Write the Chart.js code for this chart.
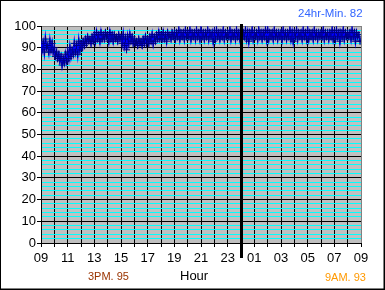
<!DOCTYPE html>
<html>
<head>
<meta charset="utf-8">
<script src="https://cdn.jsdelivr.net/npm/chart.js@4"></script>
<style>
  body { margin: 0; background: #fff; }
  #wrap { position: relative; width: 385px; height: 290px; }
  #wrap canvas { position: absolute; left: 0; top: 0; }
  .note { position: absolute; font-family: "Liberation Sans", Arial, sans-serif; white-space: nowrap; line-height: 1; }
</style>
</head>
<body>
<div id="wrap">
  <canvas id="humChart" width="385" height="290"></canvas>
  <div class="note" style="left:298px; top:8px; font-size:11.5px; color:#3366FF;">24hr-Min. 82</div>
  <div class="note" style="left:180px; top:269px; font-size:13px; color:#000;">Hour</div>
  <div class="note" style="left:88px; top:271px; font-size:11px; color:#993300;">3PM. 95</div>
  <div class="note" style="left:325px; top:272px; font-size:11px; color:#FF9900;">9AM. 93</div>
</div>
<script>
// readings every 5 minutes, starting 09:00, for 24 hours (one row per hour)
const stepMinutes = 5;
const readings = [
  93, 89, 92, 88, 94, 90, 91, 88, 93, 89, 92, 88,
  90, 86, 88, 85, 87, 84, 86, 82, 85, 83, 87, 84,
  88, 85, 90, 86, 89, 87, 92, 88, 91, 87, 93, 89,
  92, 90, 93, 91, 94, 92, 95, 93, 94, 92, 95, 93,
  96, 93, 97, 94, 96, 93, 97, 94, 96, 94, 97, 95,
  96, 93, 97, 94, 96, 93, 96, 94, 95, 93, 96, 94,
  95, 92, 96, 91, 94, 89, 95, 92, 96, 93, 95, 92,
  94, 92, 93, 91, 94, 92, 93, 91, 94, 92, 95, 92,
  94, 92, 95, 93, 96, 92, 95, 93, 96, 94, 97, 94,
  96, 94, 97, 94, 96, 93, 97, 95, 96, 94, 97, 95,
  97, 94, 97, 95, 98, 94, 97, 95, 97, 94, 98, 95,
  97, 95, 98, 94, 97, 95, 97, 94, 98, 95, 97, 94,
  98, 95, 97, 94, 97, 95, 98, 94, 97, 95, 97, 93,
  97, 94, 98, 95, 97, 94, 97, 95, 98, 94, 97, 95,
  97, 95, 98, 94, 97, 95, 97, 94, 98, 95, 97, 94,
  97, 94, 97, 95, 98, 94, 97, 93, 97, 95, 98, 94,
  97, 95, 97, 94, 98, 95, 97, 94, 97, 95, 98, 94,
  98, 94, 97, 95, 97, 94, 98, 95, 97, 94, 97, 95,
  97, 94, 98, 95, 97, 94, 97, 95, 98, 94, 97, 93,
  97, 95, 98, 94, 97, 95, 97, 94, 98, 95, 97, 94,
  98, 94, 97, 95, 97, 94, 98, 95, 97, 94, 97, 95,
  97, 95, 98, 94, 97, 95, 97, 94, 97, 95, 98, 94,
  97, 94, 98, 95, 97, 93, 97, 95, 98, 94, 97, 95,
  97, 95, 97, 94, 98, 95, 97, 93, 97, 95, 96, 93,
  93
];
const xTickLabels = ['09', '11', '13', '15', '17', '19', '21', '23', '01', '03', '05', '07', '09'];
const yTickLabels = ['0', '10', '20', '30', '40', '50', '60', '70', '80', '90', '100'];
const midnightHour = 15; // hours after 09:00

const points = readings.map((v, i) => ({x: i * stepMinutes / 60, y: v}));

const plotDecor = {
  id: 'plotDecor',
  beforeDraw(chart) {
    const {ctx, chartArea: a} = chart;
    ctx.save();
    ctx.fillStyle = '#C0C0C0';
    ctx.fillRect(a.left, a.top, a.right - a.left, a.bottom - a.top);
    ctx.restore();
  },
  afterDatasetsDraw(chart) {
    const {ctx, chartArea: a} = chart;
    const x = Math.round(chart.scales.x.getPixelForValue(midnightHour));
    ctx.save();
    ctx.fillStyle = '#000';
    ctx.fillRect(x - 1, a.top - 2, 3, 258 - a.top + 2);
    ctx.restore();
  },
  afterDraw(chart) {
    const {ctx, width, height} = chart;
    ctx.save();
    ctx.strokeStyle = '#000';
    ctx.lineWidth = 1;
    ctx.strokeRect(0.5, 0.5, width - 1.5, height - 1.5);
    ctx.fillStyle = '#000';
    ctx.fillRect(width - 1, 0, 1, height);
    ctx.fillRect(0, height - 1, width, 1);
    ctx.restore();
  }
};

Chart.defaults.font.family = '"Liberation Sans", Arial, sans-serif';
Chart.defaults.font.size = 13;
Chart.defaults.color = '#000';

new Chart(document.getElementById('humChart'), {
  type: 'line',
  data: {
    datasets: [{
      data: points,
      borderColor: '#0000FF',
      borderWidth: 2,
      tension: 0,
      pointStyle: 'cross',
      pointRadius: 3.5,
      pointBorderColor: '#000080',
      pointBorderWidth: 1
    }]
  },
  options: {
    responsive: false,
    animation: false,
    devicePixelRatio: 1,
    layout: { padding: { top: 26, right: 24, left: 0, bottom: 0 } },
    plugins: { legend: { display: false }, tooltip: { enabled: false } },
    scales: {
      x: {
        type: 'linear',
        min: 0,
        max: 24,
        afterFit(scale) { scale.height = 47; },
        border: { color: '#000', width: 1 },
        grid: {
          color: (c) => c.tick && c.tick.value === 24 ? '#808080' : '#000',
          tickColor: '#000',
          tickLength: 4
        },
        ticks: {
          stepSize: 1,
          autoSkip: false,
          maxRotation: 0,
          padding: 4,
          callback: (v) => v % 2 === 0 ? xTickLabels[v / 2] : ''
        }
      },
      y: {
        min: 0,
        max: 100,
        afterFit(scale) { scale.width = 41; },
        border: { color: '#000', width: 1 },
        grid: {
          color: (c) => {
            const v = c.tick ? c.tick.value : 0;
            if (v === 100) return '#808080';
            return v % 10 === 0 ? '#000' : '#00FFFF';
          },
          tickColor: (c) => c.tick && c.tick.value % 10 === 0 ? '#000' : 'rgba(0,0,0,0)',
          tickLength: 4
        },
        ticks: {
          stepSize: 2,
          autoSkip: false,
          padding: 1,
          callback: (v) => v % 10 === 0 ? yTickLabels[v / 10] : ''
        }
      }
    }
  },
  plugins: [plotDecor]
});
</script>
</body>
</html>
